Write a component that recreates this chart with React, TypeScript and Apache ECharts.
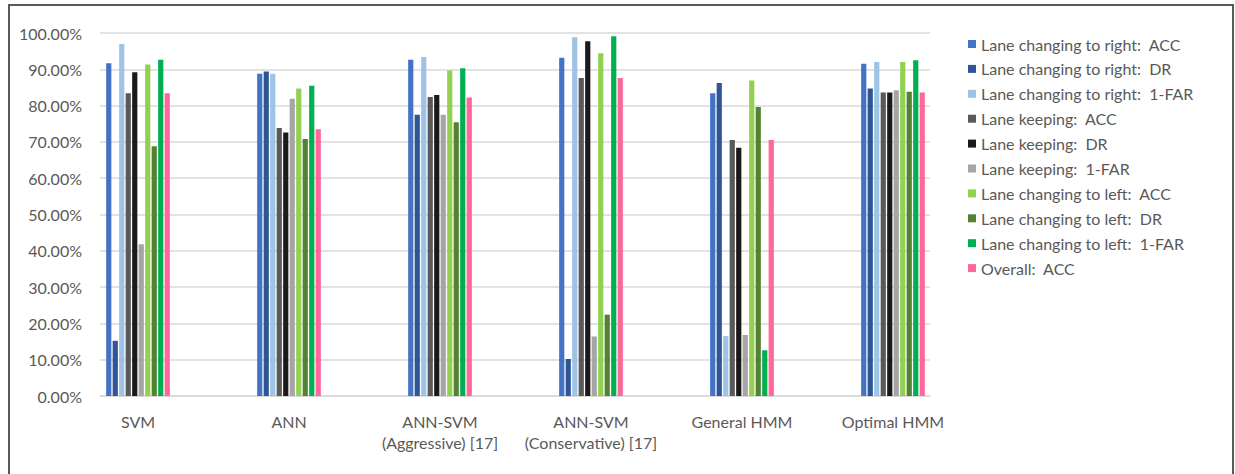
import React, { useEffect, useRef } from "react";
import * as echarts from "echarts";

// Methods compared along the x axis
const categories = [
  "SVM",
  "ANN",
  "ANN-SVM\n(Aggressive) [17]",
  "ANN-SVM\n(Conservative) [17]",
  "General HMM",
  "Optimal HMM",
];

// Metric names (legend order)
const seriesNames = [
  "Lane changing to right:  ACC",
  "Lane changing to right:  DR",
  "Lane changing to right:  1-FAR",
  "Lane keeping:  ACC",
  "Lane keeping:  DR",
  "Lane keeping:  1-FAR",
  "Lane changing to left:  ACC",
  "Lane changing to left:  DR",
  "Lane changing to left:  1-FAR",
  "Overall:  ACC",
];

const seriesColors = [
  "#4472C4",
  "#2F5597",
  "#9DC3E6",
  "#595959",
  "#1A1A1A",
  "#A5A5A5",
  "#92D050",
  "#548235",
  "#00B050",
  "#FF6699",
];

// Values per metric, one entry per method (fractions of 1)
const rightAcc = [0.917, 0.888, 0.926, 0.932, 0.834, 0.915];
const rightDr = [0.152, 0.894, 0.775, 0.102, 0.862, 0.847];
const rightFar = [0.97, 0.888, 0.934, 0.988, 0.165, 0.92];
const keepAcc = [0.834, 0.738, 0.824, 0.876, 0.705, 0.836];
const keepDr = [0.892, 0.726, 0.829, 0.977, 0.684, 0.836];
const keepFar = [0.418, 0.819, 0.775, 0.164, 0.168, 0.842];
const leftAcc = [0.913, 0.847, 0.897, 0.944, 0.869, 0.92];
const leftDr = [0.688, 0.708, 0.754, 0.224, 0.796, 0.838];
const leftFar = [0.926, 0.855, 0.903, 0.991, 0.126, 0.925];
const overallAcc = [0.834, 0.735, 0.822, 0.876, 0.705, 0.836];

const seriesValues = [
  rightAcc,
  rightDr,
  rightFar,
  keepAcc,
  keepDr,
  keepFar,
  leftAcc,
  leftDr,
  leftFar,
  overallAcc,
];

const FONT = "Lato, 'Open Sans', sans-serif";
const TEXT = "#595959";

export default function App() {
  const ref = useRef<HTMLDivElement>(null);

  useEffect(() => {
    if (!ref.current) return;
    const chart = echarts.init(ref.current, undefined, { renderer: "svg" });

    const option = {
      animation: false,
      backgroundColor: "#ffffff",
      textStyle: { fontFamily: FONT },
      graphic: [
        {
          type: "rect",
          shape: { x: 9, y: 5, width: 1224, height: 490 },
          style: { fill: "none", stroke: "#595959", lineWidth: 2 },
          silent: true,
        },
      ],
      legend: {
        orient: "vertical",
        left: 963,
        top: 31,
        itemWidth: 8,
        itemHeight: 8,
        itemGap: 8.9,
        icon: "rect",
        data: seriesNames,
        textStyle: {
          fontFamily: FONT,
          fontSize: 16,
          lineHeight: 16,
          color: TEXT,
        },
      },
      grid: [
        // gridlines and percentage axis
        { left: 100, top: 33, width: 830, height: 363 },
        // bars and method labels
        { left: 62.5, top: 33, width: 906, height: 363 },
      ],
      xAxis: [
        {
          type: "category",
          gridIndex: 0,
          data: categories,
          axisLine: { show: true, lineStyle: { color: "#D9D9D9", width: 1.5 } },
          axisTick: { show: false },
          axisLabel: { show: false },
          splitLine: { show: false },
        },
        {
          type: "category",
          gridIndex: 1,
          data: categories,
          axisLine: { show: false },
          axisTick: { show: false },
          splitLine: { show: false },
          axisLabel: {
            margin: 15,
            fontFamily: FONT,
            fontSize: 16,
            lineHeight: 21,
            color: TEXT,
            interval: 0,
          },
        },
      ],
      yAxis: [
        {
          type: "value",
          gridIndex: 0,
          min: 0,
          max: 1,
          interval: 0.1,
          axisLine: { show: false },
          axisTick: { show: false },
          splitLine: { lineStyle: { color: "#D9D9D9", width: 1.5 } },
          axisLabel: {
            margin: 18,
            fontFamily: FONT,
            fontSize: 16,
            color: TEXT,
            formatter: (v: number) => (v * 100).toFixed(2) + "%",
          },
        },
        {
          type: "value",
          gridIndex: 1,
          min: 0,
          max: 1,
          interval: 0.1,
          show: false,
          splitLine: { show: false },
        },
      ],
      series: seriesNames.map((name, i) => ({
        name,
        type: "bar",
        xAxisIndex: 1,
        yAxisIndex: 1,
        data: seriesValues[i],
        barWidth: 5.2,
        barGap: "25%",
        itemStyle: { color: seriesColors[i] },
        emphasis: { disabled: true },
      })),
    };

    chart.setOption(option);
    return () => chart.dispose();
  }, []);

  return (
    <div
      ref={ref}
      style={{ position: "fixed", left: 0, top: 0, width: 1235, height: 474 }}
    />
  );
}
